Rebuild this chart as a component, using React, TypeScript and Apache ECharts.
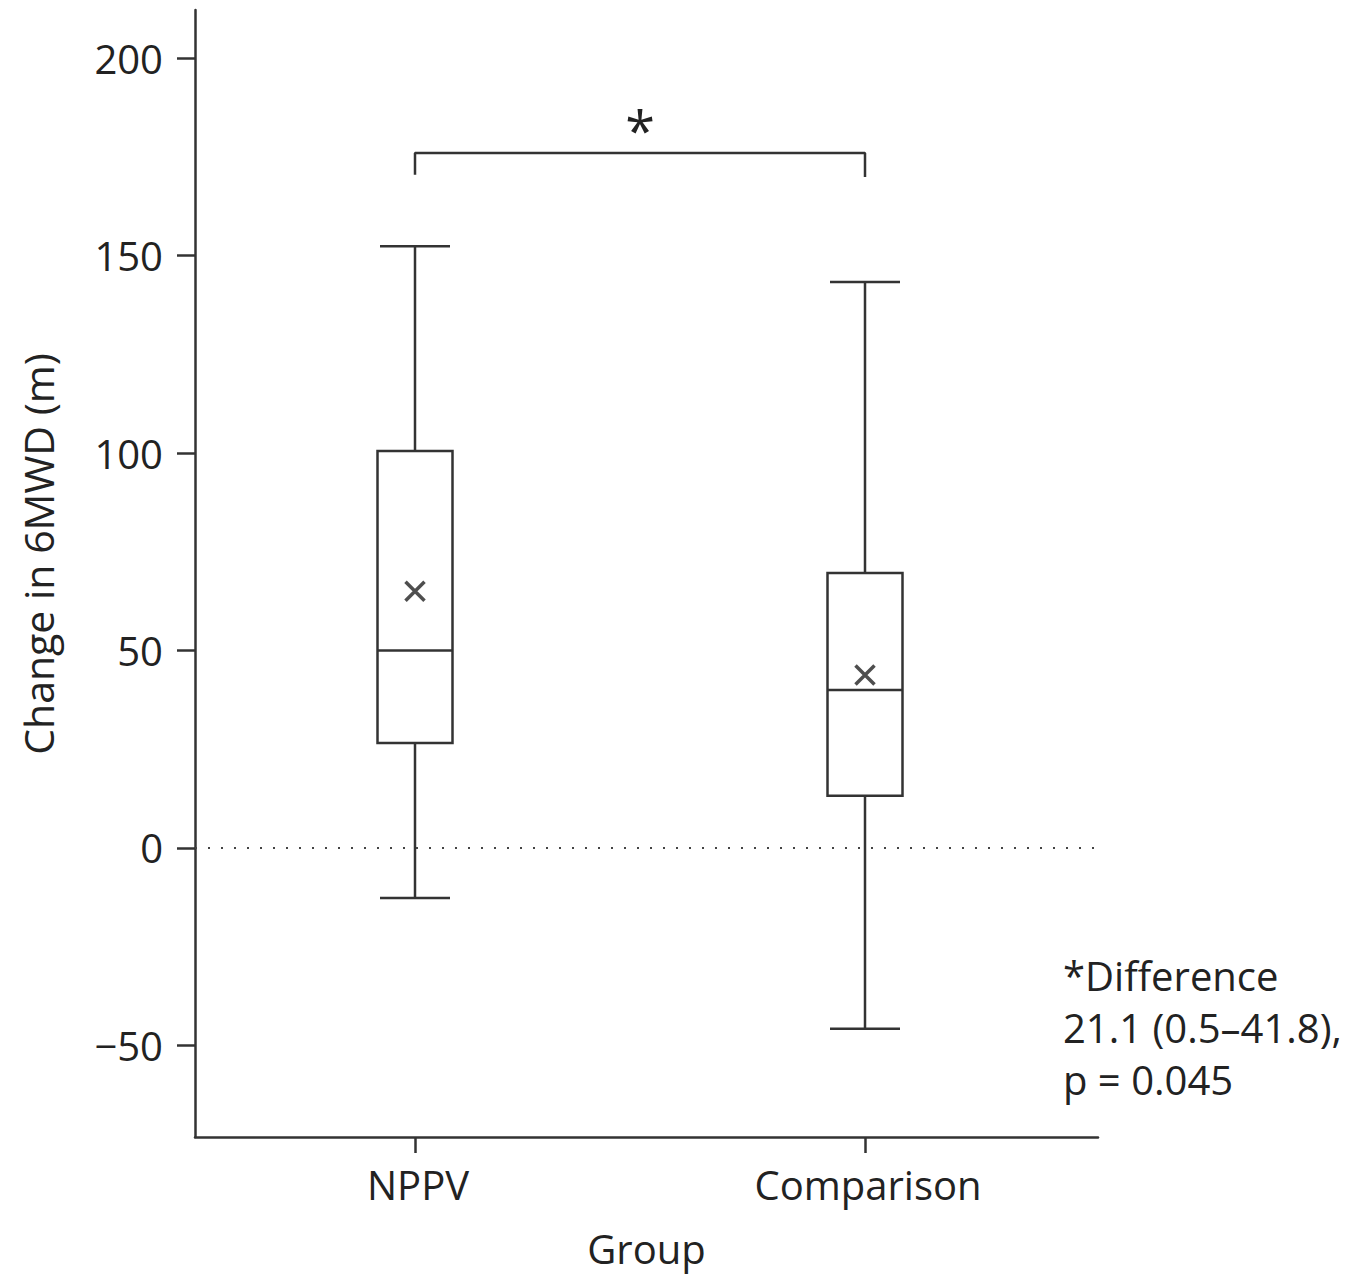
import React, { useEffect, useRef } from "react";
import * as echarts from "echarts";

const categories = ["NPPV", "Comparison"];
const boxMin = [-12.7, -45.8];
const boxQ1 = [26.6, 13.2];
const boxMedian = [50, 40];
const boxQ3 = [100.5, 69.6];
const boxMax = [152.4, 143.3];
const means = [65, 43.8];
const yTicks = [-50, 0, 50, 100, 150, 200];
const bracketTop = 176;
const bracketEnds = [170.5, 169.9];
const yAxisTitle = "Change in 6MWD (m)";
const xAxisTitle = "Group";
const noteLines = ["*Difference", "21.1 (0.5–41.8),", "p = 0.045"];

const FONT = "'Open Sans', 'Noto Sans', sans-serif";
const TXT = "#222222";
const LINE = "#333333";

export default function App() {
  const ref = useRef<HTMLDivElement>(null);
  useEffect(() => {
    document.body.style.margin = "0";
    if (!ref.current) return;
    const chart = echarts.init(ref.current, null, { renderer: "svg" });
    const boxData = categories.map((_, i) => [i, boxMin[i], boxQ1[i], boxMedian[i], boxQ3[i], boxMax[i]]);
    const meanData = categories.map((_, i) => [i, means[i]]);
    const bracketData = [
      [0, bracketEnds[0]],
      [0, bracketTop],
      [1, bracketTop],
      [1, bracketEnds[1]],
    ];
    const option: any = {
      animation: false,
      backgroundColor: "#ffffff",
      textStyle: { fontFamily: FONT },
      grid: { left: 195, right: 250, top: 10, bottom: 137, containLabel: false },
      xAxis: {
        type: "value",
        min: (195 - 415) / 450,
        max: (1098 - 415) / 450,
        name: xAxisTitle,
        nameLocation: "middle",
        nameGap: 91,
        nameTextStyle: { fontSize: 40, color: TXT, fontFamily: FONT },
        axisLine: { show: true, onZero: false, lineStyle: { color: LINE, width: 2.5 } },
        axisTick: { show: true, length: 16, customValues: [0, 1], lineStyle: { color: LINE, width: 2.5 } },
        axisLabel: {
          customValues: [0, 1],
          margin: 27,
          fontSize: 40,
          color: TXT,
          fontFamily: FONT,
          padding: [0, 0, 0, 6],
          formatter: (v: number) => categories[Math.round(v)] ?? "",
        },
        splitLine: { show: false },
      },
      yAxis: {
        type: "value",
        min: -73.2,
        max: 212.2,
        axisLine: { show: true, onZero: false, lineStyle: { color: LINE, width: 2.5 } },
        axisTick: { show: true, length: 18, customValues: yTicks, lineStyle: { color: LINE, width: 2.5 } },
        axisLabel: {
          customValues: yTicks,
          margin: 32,
          fontSize: 40,
          color: TXT,
          fontFamily: FONT,
          formatter: (v: number) => String(v).replace("-", "\u2212"),
        },
        splitLine: { show: false },
      },
      series: [
        {
          type: "custom",
          data: boxData,
          encode: { x: 0, y: [1, 2, 3, 4, 5] },
          renderItem: (params: any, api: any) => {
            const x = api.value(0);
            const vals = [1, 2, 3, 4, 5].map((k) => api.value(k));
            const pts = vals.map((v) => api.coord([x, v]));
            const cx = pts[0][0];
            const [yMin, yQ1, yMed, yQ3, yMax] = pts.map((p: number[]) => p[1]);
            const half = 37.5;
            const cap = 35;
            const style = { stroke: LINE, lineWidth: 2.5, fill: "none" };
            return {
              type: "group",
              children: [
                { type: "line", shape: { x1: cx, y1: yMax, x2: cx, y2: yQ3 }, style },
                { type: "line", shape: { x1: cx, y1: yQ1, x2: cx, y2: yMin }, style },
                { type: "line", shape: { x1: cx - cap, y1: yMax, x2: cx + cap, y2: yMax }, style },
                { type: "line", shape: { x1: cx - cap, y1: yMin, x2: cx + cap, y2: yMin }, style },
                { type: "rect", shape: { x: cx - half, y: yQ3, width: half * 2, height: yQ1 - yQ3 }, style },
                { type: "line", shape: { x1: cx - half, y1: yMed, x2: cx + half, y2: yMed }, style },
              ],
            };
          },
          z: 3,
        },
        {
          type: "scatter",
          data: meanData,
          symbol: "path://M0,0L10,10M10,0L0,10",
          symbolSize: 19,
          itemStyle: { color: "transparent", borderColor: "#222", borderWidth: 3.5 },
          z: 4,
          markLine: {
            silent: true,
            symbol: "none",
            label: { show: false },
            lineStyle: { color: "#444", width: 2, type: [2, 11] },
            data: [{ yAxis: 0 }],
          },
        },
        {
          type: "line",
          data: bracketData,
          symbol: "none",
          lineStyle: { color: LINE, width: 2.5 },
          z: 3,
        },
      ],
      graphic: [
        {
          type: "text",
          x: 38,
          y: 554,
          rotation: Math.PI / 2,
          style: { text: yAxisTitle, fontSize: 41, fill: TXT, fontFamily: FONT, textAlign: "center", textVerticalAlign: "middle" },
        },
        {
          type: "text",
          x: 640,
          y: 130,
          style: { text: "*", fontSize: 54, fill: TXT, fontFamily: FONT, textAlign: "center", textVerticalAlign: "middle" },
        },
        {
          type: "text",
          x: 1063,
          y: 949,
          style: {
            text: noteLines.join("\n"),
            fontSize: 40,
            lineHeight: 52,
            fill: TXT,
            fontFamily: FONT,
            textAlign: "left",
            textVerticalAlign: "top",
          },
        },
      ],
    };
    chart.setOption(option);
    return () => chart.dispose();
  }, []);
  return <div ref={ref} style={{ width: 1348, height: 1274 }} />;
}
